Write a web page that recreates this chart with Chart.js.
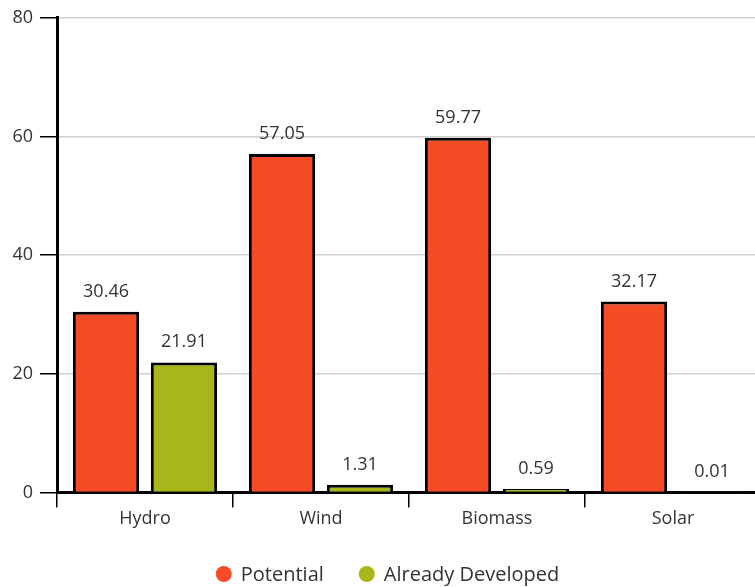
<!DOCTYPE html>
<html>
<head>
<meta charset="utf-8">
<script src="https://cdn.jsdelivr.net/npm/chart.js@4.4.1/dist/chart.umd.min.js"></script>
<style>
  html, body { margin: 0; padding: 0; background: #fff; overflow: hidden; }
  #wrap { position: relative; width: 775px; height: 587px; }
</style>
</head>
<body>
<div id="wrap"><canvas id="chart"></canvas></div>
<script>
// Renewable energy: potential vs. already developed capacity
const categories = ['Hydro', 'Wind', 'Biomass', 'Solar'];
const potential = [30.46, 57.05, 59.77, 32.17];
const developed = [21.91, 1.31, 0.59, 0.01];
const seriesNames = ['Potential', 'Already Developed'];
const seriesColors = ['#F54B27', '#A9B61A'];
const yTicks = [0, 20, 40, 60, 80];

const FONT = '"Open Sans", sans-serif';
const TEXT = '#333333';

// Writes each bar's value just above it
const valueLabels = {
  id: 'valueLabels',
  afterDatasetsDraw(chart) {
    const ctx = chart.ctx;
    ctx.save();
    ctx.font = '18px ' + FONT;
    ctx.fillStyle = TEXT;
    ctx.textAlign = 'center';
    ctx.textBaseline = 'alphabetic';
    chart.data.datasets.forEach((ds, i) => {
      chart.getDatasetMeta(i).data.forEach((bar, j) => {
        ctx.fillText(ds.data[j].toFixed(2), bar.x, bar.y - 15);
      });
    });
    ctx.restore();
  }
};

// Row of filled circles with series names, centred under the plot
const circleLegend = {
  id: 'circleLegend',
  afterDraw(chart) {
    const ctx = chart.ctx;
    const r = 8, gap = 9, spacing = 35, y = 574;
    ctx.save();
    ctx.font = '20px ' + FONT;
    ctx.textBaseline = 'middle';
    ctx.textAlign = 'left';
    const items = chart.data.datasets.map(ds => ({
      text: ds.label,
      color: ds.backgroundColor,
      w: 2 * r + gap + ctx.measureText(ds.label).width
    }));
    const total = items.reduce((s, it) => s + it.w, 0) + spacing * (items.length - 1);
    let x = chart.width / 2 - total / 2;
    items.forEach(it => {
      ctx.fillStyle = it.color;
      ctx.beginPath();
      ctx.arc(x + r, y, r, 0, Math.PI * 2);
      ctx.fill();
      ctx.fillStyle = TEXT;
      ctx.fillText(it.text, x + 2 * r + gap, y + 1);
      x += it.w + spacing;
    });
    ctx.restore();
  }
};

const barStyle = {
  borderColor: '#000000',
  borderWidth: 3,
  borderSkipped: 'start',
  barPercentage: 0.85,
  categoryPercentage: 0.886
};

new Chart(document.getElementById('chart'), {
  type: 'bar',
  data: {
    labels: categories,
    datasets: [
      Object.assign({ label: seriesNames[0], data: potential, backgroundColor: seriesColors[0] }, barStyle),
      Object.assign({ label: seriesNames[1], data: developed, backgroundColor: seriesColors[1] }, barStyle)
    ]
  },
  options: {
    responsive: true,
    maintainAspectRatio: false,
    animation: false,
    layout: { padding: { top: 6, right: 14, left: 0, bottom: 56 } },
    plugins: {
      tooltip: { enabled: false },
      legend: { display: false }
    },
    scales: {
      x: {
        grid: {
          display: true,
          drawOnChartArea: false,
          drawTicks: true,
          tickLength: 15,
          tickColor: '#000000',
          lineWidth: 1.5
        },
        border: { display: true, color: '#000000', width: 3 },
        ticks: {
          color: TEXT,
          padding: 1,
          font: { family: FONT, size: 18 }
        }
      },
      y: {
        min: 0,
        max: 80,
        afterBuildTicks(scale) {
          scale.ticks = yTicks.map(v => ({ value: v }));
        },
        afterFit(scale) { scale.width = 57; },
        grid: {
          color: '#d0d0d0',
          lineWidth: 1.5,
          tickLength: 17,
          tickColor: '#000000'
        },
        border: { display: true, color: '#000000', width: 3 },
        ticks: {
          color: TEXT,
          padding: 7,
          font: { family: FONT, size: 18 }
        }
      }
    }
  },
  plugins: [valueLabels, circleLegend]
});
</script>
</body>
</html>
